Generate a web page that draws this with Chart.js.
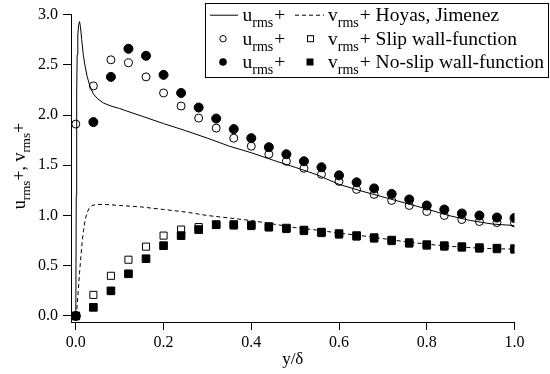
<!DOCTYPE html>
<html><head><meta charset="utf-8">
<script src="https://cdn.jsdelivr.net/npm/chart.js@4/dist/chart.umd.min.js"></script>
<style>html,body{margin:0;padding:0;background:#fff;}</style>
</head><body>
<canvas id="c" width="550" height="374" style="width:550px;height:374px;display:block"></canvas>
<script>
const xTicks = [0, 0.2, 0.4, 0.6, 0.8, 1.0];
const yTicks = [0, 0.5, 1.0, 1.5, 2.0, 2.5, 3.0];

const yDelta = [0,0.04,0.08,0.12,0.16,0.20,0.24,0.28,0.32,0.36,0.40,0.44,0.48,0.52,0.56,0.60,0.64,0.68,0.72,0.76,0.80,0.84,0.88,0.92,0.96,1.00];
const uSlip   = [1.91,2.29,2.55,2.52,2.38,2.22,2.09,1.97,1.87,1.77,1.69,1.61,1.54,1.47,1.41,1.34,1.26,1.21,1.15,1.10,1.04,1.00,0.96,0.94,0.93,0.925];
const uNoSlip = [0,1.93,2.38,2.66,2.59,2.40,2.22,2.075,1.965,1.86,1.77,1.68,1.61,1.54,1.48,1.40,1.33,1.27,1.215,1.16,1.10,1.06,1.02,1.00,0.98,0.975];
const vSlip   = [0,0.21,0.40,0.56,0.69,0.80,0.86,0.885,0.905,0.90,0.895,0.88,0.865,0.845,0.825,0.81,0.79,0.77,0.745,0.72,0.70,0.69,0.68,0.67,0.665,0.66];
const vNoSlip = [0,0.086,0.25,0.42,0.57,0.70,0.80,0.86,0.91,0.91,0.905,0.89,0.875,0.855,0.835,0.82,0.80,0.78,0.755,0.73,0.71,0.70,0.69,0.68,0.675,0.67];

const hoyasUY = [0,0.001,0.002,0.003,0.0045,0.0065,0.0085,0.0105,0.0134,0.017,0.021,0.026,0.032,0.04,0.05,0.063,0.08,0.1,0.116,0.15,0.2,0.25,0.3,0.35,0.4,0.45,0.5,0.55,0.6,0.65,0.7,0.75,0.8,0.85,0.9,0.95,1.0];
const hoyasU  = [0,1.2,2.2,2.6,2.8,2.9,2.93,2.88,2.75,2.6,2.49,2.38,2.29,2.21,2.16,2.12,2.09,2.065,2.04,1.99,1.915,1.845,1.77,1.69,1.625,1.55,1.48,1.405,1.31,1.245,1.185,1.125,1.065,1.0,0.95,0.915,0.90];
const hoyasVY = [0,0.003,0.0057,0.0085,0.0115,0.0145,0.0175,0.021,0.025,0.03,0.037,0.048,0.07,0.1,0.15,0.2,0.25,0.3,0.35,0.4,0.45,0.5,0.55,0.6,0.65,0.7,0.75,0.8,0.85,0.9,0.95,1.0];
const hoyasV  = [0,0.1,0.26,0.43,0.59,0.74,0.85,0.95,1.02,1.07,1.10,1.11,1.11,1.10,1.085,1.06,1.035,1.00,0.975,0.95,0.915,0.88,0.855,0.825,0.80,0.77,0.74,0.715,0.695,0.68,0.67,0.665];

const SERIF = "'Liberation Serif','Times New Roman',serif";
const pts = (xs, ys) => xs.map((x, i) => ({x: x, y: ys[i]}));

function drawRich(ctx, x, y, parts, big, small, off) {
  let cx = x;
  parts.forEach(p => {
    ctx.font = (p.sub ? small : big) + 'px ' + SERIF;
    ctx.fillText(p.t, cx, y + (p.sub ? off : 0));
    cx += ctx.measureText(p.t).width + (p.gap || 0);
  });
  return cx;
}
function richWidth(ctx, parts, big, small) {
  let w = 0;
  parts.forEach(p => { ctx.font = (p.sub ? small : big) + 'px ' + SERIF; w += ctx.measureText(p.t).width + (p.gap || 0); });
  return w;
}

const overlay = {
  id: 'overlay',
  afterDraw(chart) {
    const ctx = chart.ctx;
    ctx.save();
    // legend box
    ctx.fillStyle = '#fff';
    ctx.fillRect(205, 3, 344, 75);
    ctx.strokeStyle = '#000';
    ctx.lineWidth = 1;
    ctx.strokeRect(205.5, 3.5, 343, 74);
    ctx.fillStyle = '#000';
    ctx.textBaseline = 'alphabetic';
    ctx.textAlign = 'left';
    const base = [20.7, 44.7, 68];
    const mid = base.map(b => b - 6);
    // samples col 1
    ctx.beginPath(); ctx.moveTo(210, mid[0] + 0.5); ctx.lineTo(238, mid[0] + 0.5); ctx.stroke();
    ctx.beginPath(); ctx.arc(223, mid[1], 3.2, 0, Math.PI * 2); ctx.fillStyle = '#fff'; ctx.fill(); ctx.stroke();
    ctx.beginPath(); ctx.arc(223, mid[2], 3.8, 0, Math.PI * 2); ctx.fillStyle = '#000'; ctx.fill();
    // samples col 2
    ctx.setLineDash([4, 3]);
    ctx.beginPath(); ctx.moveTo(295, mid[0] + 0.5); ctx.lineTo(324, mid[0] + 0.5); ctx.stroke();
    ctx.setLineDash([]);
    ctx.fillStyle = '#fff'; ctx.fillRect(307.5, mid[1] - 3, 6, 6); ctx.strokeRect(307.5, mid[1] - 3, 6, 6);
    ctx.fillStyle = '#000'; ctx.fillRect(306.5, mid[2] - 3.5, 7, 7);
    const texts = ['Hoyas, Jimenez', 'Slip wall-function', 'No-slip wall-function'];
    for (let i = 0; i < 3; i++) {
      drawRich(ctx, 242.5, base[i], [{t: 'u'}, {t: 'rms', sub: true, gap: 1}, {t: '+'}], 19.5, 14, 6);
      drawRich(ctx, 328, base[i], [{t: 'v'}, {t: 'rms', sub: true, gap: 1}, {t: '+ ' + texts[i]}], 19.5, 14, 6);
    }
    // y axis title
    const parts = [{t: 'u'}, {t: 'rms', sub: true}, {t: '+, v'}, {t: 'rms', sub: true}, {t: '+'}];
    const w = richWidth(ctx, parts, 18, 13);
    ctx.translate(25, 166);
    ctx.rotate(-Math.PI / 2);
    drawRich(ctx, -w / 2, 0, parts, 18, 13, 5);
    ctx.restore();
  }
};

const axisCommon = {
  grid: {display: true, drawOnChartArea: false, drawTicks: true, tickLength: 8, color: '#000', tickColor: '#000', lineWidth: 1},
  border: {display: true, color: '#000', width: 1}
};

new Chart(document.getElementById('c'), {
  type: 'scatter',
  data: {
    datasets: [
      {label: 'u Hoyas', type: 'line', data: pts(hoyasUY, hoyasU), borderColor: '#000', borderWidth: 1, pointRadius: 0, fill: false, tension: 0, order: 2},
      {label: 'v Hoyas', type: 'line', data: pts(hoyasVY, hoyasV), borderColor: '#000', borderWidth: 1, borderDash: [4, 3], pointRadius: 0, fill: false, tension: 0, order: 2},
      {label: 'u slip', data: pts(yDelta, uSlip), pointStyle: 'circle', pointRadius: 4, pointBackgroundColor: '#fff', pointBorderColor: '#000', pointBorderWidth: 1, order: 3},
      {label: 'v slip', data: pts(yDelta, vSlip), pointStyle: 'rect', pointRadius: 5, pointBackgroundColor: '#fff', pointBorderColor: '#000', pointBorderWidth: 1, order: 3},
      {label: 'u noslip', data: pts(yDelta, uNoSlip), pointStyle: 'circle', pointRadius: 4.5, pointBackgroundColor: '#000', pointBorderColor: '#000', pointBorderWidth: 1, order: 1},
      {label: 'v noslip', data: pts(yDelta, vNoSlip), pointStyle: 'rect', pointRadius: 5.4, pointBackgroundColor: '#000', pointBorderColor: '#000', pointBorderWidth: 1, order: 1}
    ]
  },
  options: {
    responsive: false,
    devicePixelRatio: 1,
    animation: false,
    events: [],
    layout: {padding: {top: 13, right: 35.5, left: 0, bottom: 0}},
    plugins: {legend: {display: false}, tooltip: {enabled: false}, title: {display: false}},
    scales: {
      x: Object.assign({}, axisCommon, {
        type: 'linear', min: -0.011, max: 1.0,
        afterBuildTicks: s => { s.ticks = xTicks.map(v => ({value: v})); },
        afterFit: s => { s.height = 52; },
        ticks: {callback: v => Number(v).toFixed(1), font: {family: SERIF, size: 16}, color: '#000', padding: 3, maxRotation: 0, autoSkip: false},
        title: {display: true, text: 'y/δ', font: {family: SERIF, size: 17}, color: '#000', padding: {top: 0, bottom: 4}}
      }),
      y: Object.assign({}, axisCommon, {
        type: 'linear', min: -0.06, max: 3.0,
        afterBuildTicks: s => { s.ticks = yTicks.map(v => ({value: v})); },
        afterFit: s => { s.width = 71; },
        ticks: {callback: v => Number(v).toFixed(1), font: {family: SERIF, size: 16}, color: '#000', padding: 5, autoSkip: false}
      })
    }
  },
  plugins: [overlay]
});
</script>
</body></html>
